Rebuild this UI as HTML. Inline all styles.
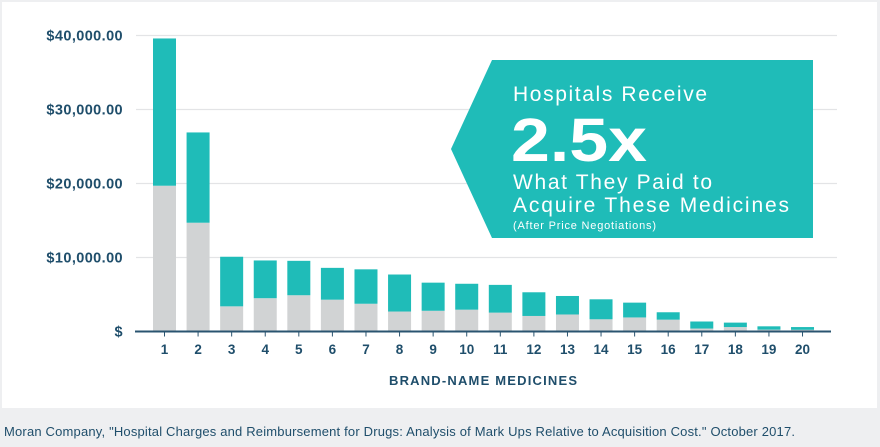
<!DOCTYPE html>
<html><head><meta charset="utf-8"><style>
body{margin:0;width:880px;height:447px;background:#eeeff1;font-family:"Liberation Sans",sans-serif;overflow:hidden}
svg{position:absolute;left:0;top:0}
</style></head><body>
<svg width="880" height="447">
<rect x="2" y="2" width="875" height="406" fill="#fff"/>
<g id="grid"></g><g id="bars"></g><g id="axes"></g>
<g>
<polygon points="492,60 813,60 813,238 492,238 451,149" fill="#1fbcb8"/>
<text x="513" y="101" fill="#fff" font-size="21" textLength="194" lengthAdjust="spacing">Hospitals Receive</text>
<text x="511" y="161" fill="#fff" font-size="61" font-weight="bold" textLength="136" lengthAdjust="spacingAndGlyphs">2.5x</text>
<text x="513" y="189" fill="#fff" font-size="21" textLength="199" lengthAdjust="spacing">What They Paid to</text>
<text x="513" y="212" fill="#fff" font-size="21" textLength="276" lengthAdjust="spacing">Acquire These Medicines</text>
<text x="513" y="229" fill="#fff" font-size="11" textLength="143" lengthAdjust="spacing">(After Price Negotiations)</text>
</g>
<text x="389" y="385" fill="#1f4e6b" font-size="13" font-weight="bold" textLength="188" lengthAdjust="spacing">BRAND-NAME MEDICINES</text>
<text x="4" y="436" fill="#1f4e6b" font-size="13" textLength="791" lengthAdjust="spacing">Moran Company, "Hospital Charges and Reimbursement for Drugs: Analysis of Mark Ups Relative to Acquisition Cost." October 2017.</text>
</svg>
<script>
const categories=["1","2","3","4","5","6","7","8","9","10","11","12","13","14","15","16","17","18","19","20"];
const acquisitionCost=[19700,14700,3400,4500,4900,4300,3750,2700,2800,2950,2550,2100,2300,1650,1900,1600,400,600,250,230];
const totalReimbursement=[39600,26900,10100,9600,9550,8600,8400,7700,6600,6450,6300,5300,4800,4350,3900,2600,1350,1200,700,600];
const yTicks=[0,10000,20000,30000,40000];
const yTickLabels=["$","$10,000.00","$20,000.00","$30,000.00","$40,000.00"];
const NS="http://www.w3.org/2000/svg";
const y0=331.5,yPer=296/40000;
const y=v=>y0-v*yPer;
const x=i=>164.5+i*33.58;
const bw=23;
function mk(tag,attrs,parent){const e=document.createElementNS(NS,tag);for(const k in attrs)e.setAttribute(k,attrs[k]);document.getElementById(parent).appendChild(e);return e;}
yTicks.forEach((t,i)=>{
 if(t>0){const l=mk('line',{x1:136,x2:837,y1:y(t),y2:y(t),stroke:'#e3e4e6','stroke-width':1.3},'grid');
 
 }
 const tx=mk('text',{x:123,y:y(t)+5,'text-anchor':'end',fill:'#1f4e6b','font-size':14.5,'font-weight':'bold','letter-spacing':0.4},'axes');
 tx.textContent=yTickLabels[i];
 
 
});
categories.forEach((c,i)=>{
 const g=mk('rect',{x:x(i)-bw/2,y:y(acquisitionCost[i]),width:bw,height:y0-y(acquisitionCost[i]),fill:'#d1d3d4'},'bars');
 
 
 const t=mk('rect',{x:x(i)-bw/2,y:y(totalReimbursement[i]),width:bw,height:y(acquisitionCost[i])-y(totalReimbursement[i]),fill:'#1fbcb8'},'bars');
 
 
 const tk=mk('line',{x1:x(i),x2:x(i),y1:y0,y2:y0+5,stroke:'#2a5470','stroke-width':1},'axes');
 
 
 const lb=mk('text',{x:x(i),y:354,'text-anchor':'middle',fill:'#1f4e6b','font-size':13.5,'font-weight':'bold'},'axes');
 lb.textContent=c;
 
 
});
const ax=mk('line',{x1:135,x2:831,y1:y0,y2:y0,stroke:'#2a5470','stroke-width':2},'axes');


</script>
</body></html>
